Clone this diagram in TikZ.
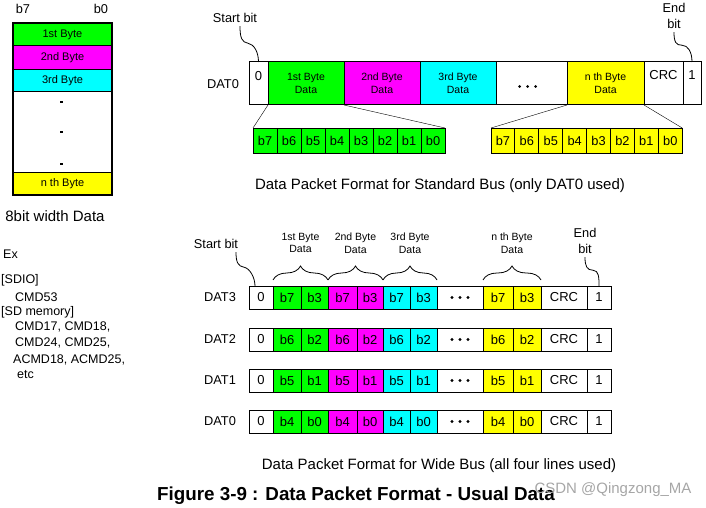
\documentclass[tikz,border=0pt]{standalone}
\usepackage{fontspec}
\setmainfont{Liberation Sans}
\usetikzlibrary{decorations.pathreplacing}
\definecolor{bytegreen}{RGB}{0,255,0}
\definecolor{bytemagenta}{RGB}{255,0,255}
\definecolor{bytecyan}{RGB}{0,255,255}
\definecolor{byteyellow}{RGB}{255,255,0}
\newcommand\fsz[1]{\fontsize{#1}{#1}\selectfont}

\begin{document}
\begin{tikzpicture}[x=1pt,y=-1pt,
  cell/.style={draw, line width=1pt, anchor=north west, inner sep=0pt, outer sep=0pt, align=center, font=\fsz{13}},
  bytecell/.style={cell, font=\fontsize{10.5}{13}\selectfont},
  bitcell/.style={cell, font=\fsz{12.8}, minimum height=25pt},
  widecell/.style={cell, font=\fsz{13}, minimum height=23pt},
  labeltext/.style={font=\fontsize{12.8}{16}\selectfont, align=center},
  smalltext/.style={font=\fontsize{10.5}{12.5}\selectfont, align=center},
  cmdtext/.style={font=\fsz{12.5}, anchor=west, inner sep=0pt},
  squiggle/.style={line width=0.8pt},
  bytebrace/.style={line width=0.8pt, decorate, decoration={brace, amplitude=14pt}}]
\useasboundingbox (0,0) rectangle (706,508);

% 8bit width data column
\node[labeltext] (b7) at (23,9) {b7};
\node[labeltext] (b0) at (101,9) {b0};
\node[cell, minimum width=99pt, minimum height=23pt, fill=bytegreen, font=\fsz{11}] (by1) at (13,23) {1st Byte};
\node[cell, minimum width=99pt, minimum height=24pt, fill=bytemagenta, font=\fsz{11}] (by2) at (13,46) {2nd Byte};
\node[cell, minimum width=99pt, minimum height=22pt, fill=bytecyan, font=\fsz{11}] (by3) at (13,70) {3rd Byte};
\node[cell, minimum width=99pt, minimum height=80pt] (bydots) at (13,92) {};
\node[cell, minimum width=99pt, minimum height=23pt, fill=byteyellow, font=\fsz{11}] (byn) at (13,172) {n th Byte};
\draw[line width=2.6pt] (by1.north west) rectangle (byn.south east);
\foreach \dy in {-30,0,32}
  \fill ([yshift=-\dy pt]bydots.center) ++(-2.5,-1.2) rectangle ++(2.5,2.5);
\node[font=\fsz{15}] (width) at (55,216) {8bit width Data};

% command examples
\node[cmdtext] (ex) at (3,254) {Ex};
\node[cmdtext] at (1,280) {[SDIO]};
\node[cmdtext] at (15,297) {CMD53};
\node[cmdtext] at (1,312) {[SD memory]};
\node[cmdtext] at (15,327) {CMD17, CMD18,};
\node[cmdtext] at (15,343) {CMD24, CMD25,};
\node[cmdtext] at (13,360) {ACMD18, ACMD25,};
\node[cmdtext] at (17,375) {etc};

% standard bus
\node[labeltext] (tsb) at (235,18) {Start bit};
\node[labeltext] (teb) at (674,16) {End\\bit};
\node[labeltext] (tdat) at (223,84) {DAT0};
\node[cell, minimum width=19pt, minimum height=43pt] (ts) at (249,62) {};
\node[bytecell, minimum width=76pt, minimum height=43pt, fill=bytegreen] (td1) at (268,62) {1st Byte\\Data};
\node[bytecell, minimum width=76pt, minimum height=43pt, fill=bytemagenta] (td2) at (344,62) {2nd Byte\\Data};
\node[bytecell, minimum width=76pt, minimum height=43pt, fill=bytecyan] (td3) at (420,62) {3rd Byte\\Data};
\node[cell, minimum width=71pt, minimum height=43pt] (tdots) at (496,62) {};
\node[bytecell, minimum width=77pt, minimum height=43pt, fill=byteyellow] (tdn) at (567,62) {n th Byte\\Data};
\node[cell, minimum width=39pt, minimum height=43pt] (tcrc) at (644,62) {};
\node[cell, minimum width=18pt, minimum height=43pt] (tend) at (683,62) {};
\node[font=\fsz{13}] at ([yshift=-14pt]ts.north) {0};
\node[font=\fsz{13}] at ([yshift=-13pt]tcrc.north) {CRC};
\node[font=\fsz{13}] at ([yshift=-13pt]tend.north) {1};
\foreach \dx in {-12,-4,4}
  \fill ([xshift=\dx pt, yshift=-3pt]tdots.center) circle (1.5pt);
\draw[squiggle] ([xshift=5pt]tsb.south) .. controls +(0,12) and +(-6,-1) .. ++(8,17) .. controls +(6,1) and +(0,-10) .. (ts.north);
\draw[squiggle] (teb.south) .. controls +(0,10) and +(-6,0) .. ++(8,13) .. controls +(6,0) and +(0,-10) .. (tend.north);

\foreach \i [evaluate=\i as \b using int(7-\i)] in {0,...,7}
  \node[bitcell, minimum width=24pt, fill=bytegreen] (fg\b) at (253+24*\i,128) {b\b};
\foreach \i [evaluate=\i as \b using int(7-\i)] in {0,...,7}
  \node[bitcell, minimum width=23.9pt, fill=byteyellow] (ny\b) at (491+23.9*\i,128) {b\b};
\draw (td1.south west) -- (fg7.north west);
\draw (td1.south east) -- (fg0.north east);
\draw (tdn.south west) -- (ny7.north west);
\draw (tdn.south east) -- (ny0.north east);
\node[font=\fsz{15}] (cap1) at (440,186) {Data Packet Format for Standard Bus (only DAT0 used)};

% wide bus
\node[labeltext] (wsb) at (216,244) {Start bit};
\node[labeltext] (web) at (585,241) {End\\bit};
\foreach \r/\hi/\lo/\y in {3/7/3/286, 2/6/2/328, 1/5/1/369, 0/4/0/410} {
  \node[labeltext] (dat\r) at (220,\y+11.5) {DAT\r};
  \node[widecell, minimum width=24pt] (st\r) at (249,\y) {0};
  \node[widecell, minimum width=28pt, fill=bytegreen] (ga\r) at (273,\y) {b\hi};
  \node[widecell, minimum width=27pt, fill=bytegreen] (gb\r) at (301,\y) {b\lo};
  \node[widecell, minimum width=29pt, fill=bytemagenta] (ma\r) at (328,\y) {b\hi};
  \node[widecell, minimum width=26pt, fill=bytemagenta] (mb\r) at (357,\y) {b\lo};
  \node[widecell, minimum width=27pt, fill=bytecyan] (ca\r) at (383,\y) {b\hi};
  \node[widecell, minimum width=27pt, fill=bytecyan] (cb\r) at (410,\y) {b\lo};
  \node[widecell, minimum width=46pt] (dt\r) at (437,\y) {};
  \node[widecell, minimum width=30pt, fill=byteyellow] (ya\r) at (483,\y) {b\hi};
  \node[widecell, minimum width=28pt, fill=byteyellow] (yb\r) at (513,\y) {b\lo};
  \node[widecell, minimum width=46pt] (crc\r) at (541,\y) {CRC};
  \node[widecell, minimum width=24pt] (en\r) at (587,\y) {1};
  \foreach \dx in {-8,0,8}
    \fill ([xshift=\dx pt]dt\r.center) circle (1.6pt);
}
\draw[bytebrace] ([yshift=6pt]ga3.north west) -- ([yshift=6pt]gb3.north east);
\draw[bytebrace] ([yshift=6pt]ma3.north west) -- ([yshift=6pt]mb3.north east);
\draw[bytebrace] ([yshift=6pt]ca3.north west) -- ([yshift=6pt]cb3.north east);
\draw[bytebrace] ([yshift=6pt]ya3.north west) -- ([yshift=6pt]yb3.north east);
\node[smalltext] (l1) at (300.5,243) {1st Byte\\Data};
\node[smalltext] (l2) at (355.5,243) {2nd Byte\\Data};
\node[smalltext] (l3) at (410,243) {3rd Byte\\Data};
\node[smalltext] (ln) at (512,243) {n th Byte\\Data};
\draw[squiggle] ([xshift=20pt]wsb.south) .. controls +(0,10) and +(-6,-1) .. ++(8,15) .. controls +(6,1) and +(0,-8) .. ([xshift=-6pt]st3.north);
\draw[squiggle] (web.south) .. controls +(0,9) and +(-6,0) .. ++(8,13) .. controls +(6,0) and +(0,-8) .. (en3.north);
\node[font=\fsz{15}] (cap2) at (439,466) {Data Packet Format for Wide Bus (all four lines used)};

\node[font=\bfseries\fsz{18.8}] (fig) at (356,496) {Figure 3-9 : Data Packet Format - Usual Data};
\node[font=\fsz{15}, text=gray!70] (mark) at (613,490) {CSDN @Qingzong\_MA};
\end{tikzpicture}
\end{document}
